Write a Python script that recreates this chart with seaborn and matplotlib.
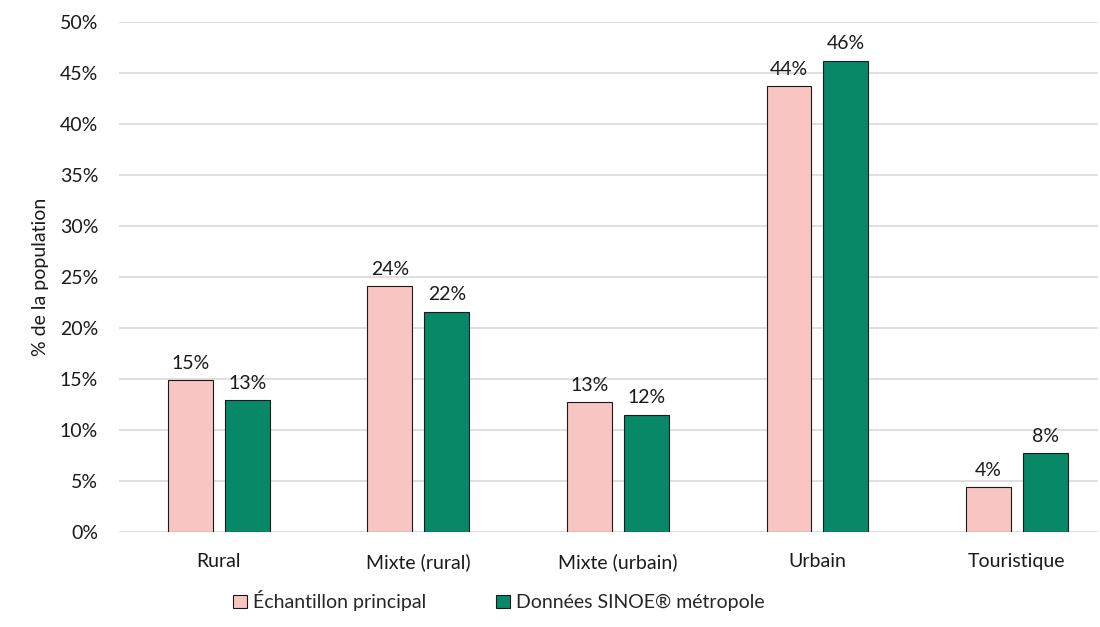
import pandas as pd
import seaborn as sns
import numpy as np
import matplotlib.pyplot as plt

# values (% of population)
categories = ['Rural', 'Mixte (rural)', 'Mixte (urbain)', 'Urbain', 'Touristique']
series = ['Échantillon principal', 'Données SINOE® métropole']
echantillon = [14.9, 24.1, 12.7, 43.7, 4.4]
sinoe = [12.9, 21.6, 11.5, 46.2, 7.7]
labels_echantillon = ['15%', '24%', '13%', '44%', '4%']
labels_sinoe = ['13%', '22%', '12%', '46%', '8%']
colors = ['#F8C5C3', '#078867']

df = pd.DataFrame({
    'Type': categories * 2,
    'Serie': [series[0]] * 5 + [series[1]] * 5,
    'Pct': echantillon + sinoe,
})

sns.set_style('white')
plt.rcParams['font.family'] = ['Lato', 'DejaVu Sans']
fs = 14

fig = plt.figure(figsize=(11, 6.27), dpi=100)
ax = fig.add_axes([119 / 1100, 1 - 532 / 627, (1098 - 119) / 1100, (532 - 22) / 627])

sns.barplot(data=df, x='Type', y='Pct', hue='Serie', palette=colors, saturation=1,
            width=0.57, gap=0.21, edgecolor='#1a1a1a', linewidth=0.8,
            legend=True, ax=ax, zorder=3)

for cont, labs in zip(ax.containers, [labels_echantillon, labels_sinoe]):
    ax.bar_label(cont, labels=labs, padding=6, fontsize=fs, color='#1a1a1a')

ax.set_ylim(0, 50)
ax.set_xlim(-0.5, (1098 - 219) / 199.5)
ax.set_yticks(np.arange(0, 51, 5))
ax.set_yticklabels([f'{v}%' for v in range(0, 51, 5)])
ax.yaxis.grid(True, color='#d9d9d9', linewidth=1.2, zorder=0)
ax.set_axisbelow(True)
for s in ax.spines.values():
    s.set_visible(False)
ax.tick_params(axis='both', length=0, labelsize=fs, colors='#1a1a1a')
ax.tick_params(axis='x', pad=15)
ax.tick_params(axis='y', pad=15)
ax.set_xlabel('')
ax.set_ylabel('% de la population', fontsize=fs, color='#1a1a1a', labelpad=8)

ax.legend(loc='upper center', bbox_to_anchor=(0.388, -0.08), ncol=2, frameon=False,
          fontsize=fs, handlelength=0.7, handleheight=0.7, handletextpad=0.3,
          columnspacing=3.6)

fig.savefig('out.png', dpi=100)
